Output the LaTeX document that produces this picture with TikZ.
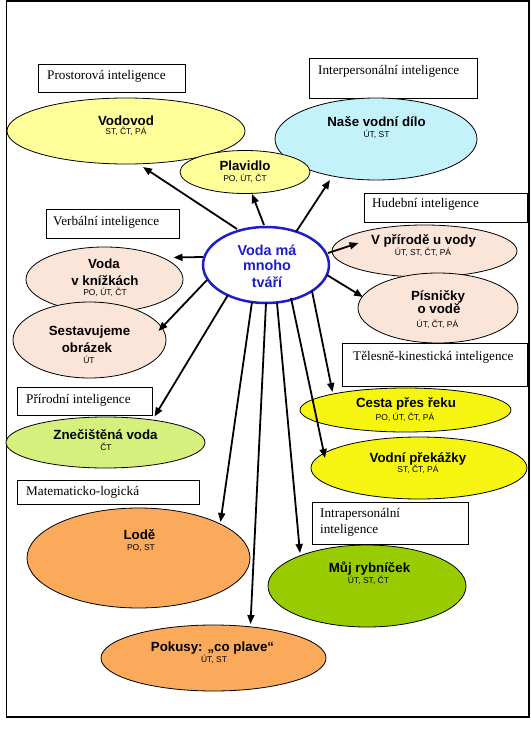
\documentclass[tikz,border=0pt]{standalone}
\usepackage{fontspec}
\setmainfont{Liberation Serif}
\newfontfamily\arialfont{Liberation Sans}
\usetikzlibrary{shapes.geometric,arrows.meta,calc}
\definecolor{cLtYel}{HTML}{FFFF99}
\definecolor{cCyan}{HTML}{C4F2FA}
\definecolor{cPink}{HTML}{FBE5D9}
\definecolor{cYel}{HTML}{F5F50F}
\definecolor{cLime}{HTML}{D6F07E}
\definecolor{cOrange}{HTML}{FAAA5A}
\definecolor{cGreen}{HTML}{99CC00}
\definecolor{vblue}{RGB}{30,30,200}
\begin{document}
\begin{tikzpicture}[x=1pt,y=-1pt,
  lbox/.style={draw=black,line width=0.8pt,fill=white,rectangle,anchor=north west,inner sep=0pt},
  ltext/.style={anchor=base west,inner sep=0pt,font=\fontsize{13.2}{16}\selectfont},
  ell/.style={ellipse,draw=black,line width=0.8pt,inner sep=0pt},
  big/.style={anchor=base,inner sep=0pt,font=\arialfont\bfseries\fontsize{13.3}{14}\selectfont},
  sml/.style={anchor=base,inner sep=0pt,font=\arialfont\fontsize{8.5}{9}\selectfont},
  ctr/.style={anchor=base,inner sep=0pt,text=vblue,font=\arialfont\bfseries\fontsize{14.4}{15}\selectfont},
  arr/.style={line width=1.8pt,-{Triangle[length=9pt,width=7pt]}},
]
\useasboundingbox (0,0) rectangle (530,733);
\draw[line width=1.5pt] (6.5,1) rectangle (529,717);

% label boxes
\node[lbox,minimum width=147pt,minimum height=28pt] (bProst) at (38,64) {};
\node[lbox,minimum width=168pt,minimum height=40pt] (bInter) at (309,58) {};
\node[lbox,minimum width=133pt,minimum height=29pt] (bVerb) at (46,209) {};
\node[lbox,minimum width=163pt,minimum height=29pt] (bHud) at (364,193) {};
\node[lbox,minimum width=185pt,minimum height=43pt] (bTel) at (342,343) {};
\node[lbox,minimum width=135pt,minimum height=28pt] (bPrir) at (17,387) {};
\node[lbox,minimum width=182pt,minimum height=24pt] (bMat) at (17,480) {};
\node[lbox,minimum width=156pt,minimum height=42pt] (bIntra) at (312,502) {};

\node[ltext] (tProst) at (47,80) {Prostorová inteligence};
\node[ltext] (tInter) at (318,75) {Interpersonální inteligence};
\node[ltext] (tVerb) at (53,225.5) {Verbální inteligence};
\node[ltext] (tHud) at (372,207) {Hudební inteligence};
\node[ltext] (tTel) at (353,360.5) {Tělesně-kinestická inteligence};
\node[ltext] (tPrir) at (26,403) {Přírodní inteligence};
\node[ltext] (tMat) at (26,495.5) {Matematicko-logická};
\node[ltext] (tIntraA) at (320,517) {Intrapersonální};
\node[ltext] (tIntraB) at (320,533) {inteligence};

% ellipses
\node[ell,fill=cLtYel,minimum width=238pt,minimum height=66pt] (vodovod) at (126,131) {};
\node[ell,fill=cCyan,minimum width=202pt,minimum height=82pt] (dilo) at (376,139) {};
\node[ell,fill=cLtYel,minimum width=130pt,minimum height=43pt] (plavidlo) at (245,172) {};
\node[ell,fill=white,draw=vblue,line width=2.5pt,minimum width=126pt,minimum height=76pt] (voda) at (266,265) {};
\node[ell,fill=cPink,minimum width=157pt,minimum height=65pt] (knizky) at (104.5,279.5) {};
\node[ell,fill=cPink,minimum width=153pt,minimum height=76pt] (obrazek) at (89.5,340) {};
\node[ell,fill=cPink,minimum width=185pt,minimum height=52pt] (priroda) at (424.5,251) {};
\node[ell,fill=cPink,minimum width=160pt,minimum height=70pt] (pisnicky) at (438,308) {};
\node[ell,fill=cYel,minimum width=211pt,minimum height=44pt] (cesta) at (405.5,410) {};
\node[ell,fill=cYel,minimum width=216pt,minimum height=62pt] (prekazky) at (419,468) {};
\node[ell,fill=cLime,minimum width=199pt,minimum height=51pt] (znecistena) at (105.5,442.5) {};
\node[ell,fill=cOrange,minimum width=223pt,minimum height=100pt] (lode) at (138.5,558) {};
\node[ell,fill=cGreen,minimum width=198pt,minimum height=82pt] (rybnicek) at (367,586) {};
\node[ell,fill=cOrange,minimum width=225pt,minimum height=66pt] (pokusy) at (213.5,658) {};

% ellipse texts
\node[big] (xVodovod) at (126,125) {Vodovod};
\node[sml] (sVodovod) at (126,135) {ST, ČT, PÁ};
\node[big] (xPlav) at (245,170) {Plavidlo};
\node[sml] (sPlav) at (245,181) {PO, ÚT, ČT};
\node[big] (xDilo) at (376.5,126.5) {Naše vodní dílo};
\node[sml] (sDilo) at (376.5,138) {ÚT, ST};
\node[ctr] (xVodaA) at (267,255) {Voda má};
\node[ctr] (xVodaB) at (267,270) {mnoho};
\node[ctr] (xVodaC) at (267,287) {tváří};
\node[big] (xKnA) at (104,268) {Voda};
\node[big] (xKnB) at (105,285) {v knížkách};
\node[sml] (sKn) at (105,295) {PO, ÚT, ČT};
\node[big] (xObA) at (89.5,335) {Sestavujeme};
\node[big] (xObB) at (87,352) {obrázek};
\node[sml] (sOb) at (89,363) {ÚT};
\node[big] (xPri) at (423.5,244) {V přírodě u vody};
\node[sml] (sPri) at (423,255) {ÚT, ST, ČT, PÁ};
\node[big] (xPisA) at (438,300) {Písničky};
\node[big] (xPisB) at (439,313) {o vodě};
\node[sml] (sPis) at (437.5,327) {ÚT, ČT, PÁ};
\node[big] (xCes) at (406,407) {Cesta přes řeku};
\node[sml] (sCes) at (405,420) {PO, ÚT, ČT, PÁ};
\node[big] (xPre) at (418,462) {Vodní překážky};
\node[sml] (sPre) at (418,472) {ST, ČT, PÁ};
\node[big] (xZne) at (105.5,439) {Znečištěná voda};
\node[sml] (sZne) at (106,450) {ČT};
\node[big] (xLod) at (139.5,539) {Lodě};
\node[sml] (sLod) at (141,550) {PO, ST};
\node[big] (xRyb) at (369.5,572) {Můj rybníček};
\node[sml] (sRyb) at (368.5,583) {ÚT, ST, ČT};
\node[big] (xPok) at (212.5,651) {Pokusy: „co plave“};
\node[sml] (sPok) at (214,662) {ÚT, ST};

% arrows
\draw[arr] ($(voda)+(-29,-36)$) -- ($(vodovod)+(17,36)$);
\draw[arr] ($(voda)+(-2,-40)$) -- ($(plavidlo)+(7,22)$);
\draw[arr] ($(voda)+(30,-33)$) -- ($(dilo)+(-46,41)$);
\draw[arr] ($(voda)+(-63,-8)$) -- ($(knizky)+(69,-22)$);
\draw[arr] ($(voda)+(-59,15)$) -- ($(obrazek)+(69,-9)$);
\draw[arr] ($(voda)+(-38,30)$) -- ($(znecistena)+(49,-26)$);
\draw[arr] ($(voda)+(-14,37)$) -- ($(lode)+(82,-36)$);
\draw[arr] ($(voda)+(0,38)$) -- ($(pokusy)+(37,-34)$);
\draw[arr] ($(voda)+(11,38)$) -- ($(rybnicek)+(-67,-33)$);
\draw[arr] ($(voda)+(25,33)$) -- ($(prekazky)+(-94,-10)$);
\draw[arr] ($(voda)+(46,26)$) -- ($(cesta)+(-73,-18)$);
\draw[arr] ($(voda)+(62,-12)$) -- ($(priroda)+(-66,-8)$);
\draw[arr] ($(voda)+(61,10)$) -- ($(pisnicky)+(-75,-11)$);
\end{tikzpicture}
\end{document}
